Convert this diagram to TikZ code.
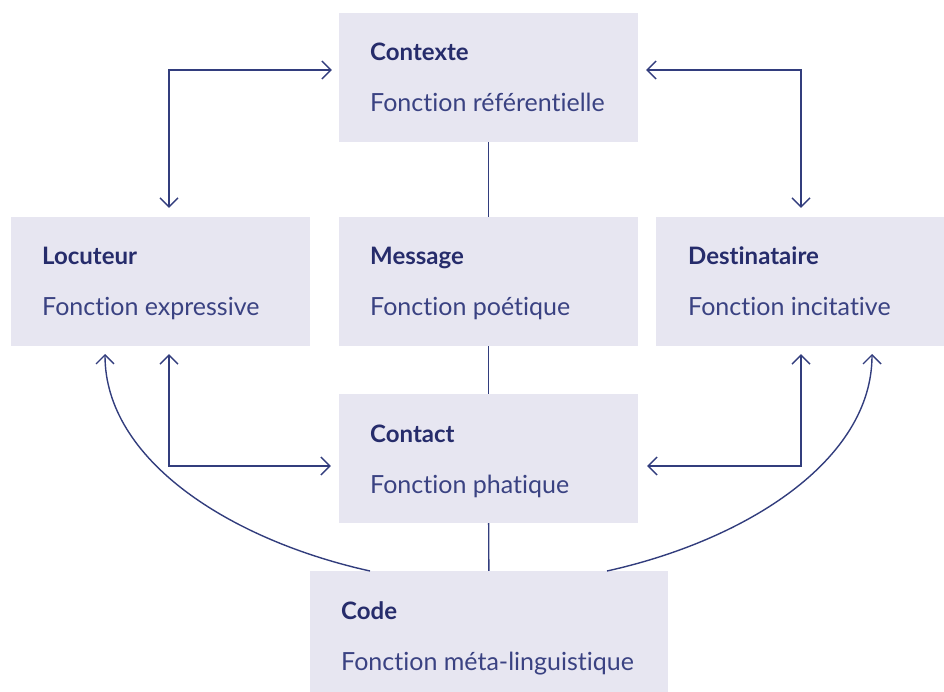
\documentclass[tikz,border=0pt]{standalone}
\usepackage{fontspec}
\setmainfont{Lato}[Ligatures={NoCommon, NoContextual}]
\usetikzlibrary{arrows.meta}
\definecolor{boxfill}{HTML}{E7E6F1}
\definecolor{navy}{HTML}{262C6B}
\definecolor{subnavy}{HTML}{3A4282}
\definecolor{linecol}{HTML}{323D7D}
\begin{document}
\begin{tikzpicture}[x=1pt, y=-1pt,
    box/.style = {fill=boxfill, minimum width=299pt, minimum height=129pt, inner sep=0pt},
    ttl/.style = {anchor=base west, inner sep=0pt, text=navy, font=\fontsize{24}{28}\selectfont\bfseries},
    sub/.style = {anchor=base west, inner sep=0pt, text=subnavy, font=\fontsize{25}{30}\selectfont},
    conn/.style = {draw=linecol, line width=1.4pt},
    >={Straight Barb[length=9pt, width=18pt]}]
    \useasboundingbox (0,0) rectangle (944,692);

    \node[box] (ctx) at (488.5, 77.5) {};
    \node[box] (loc) at (160.5, 281.5) {};
    \node[box] (msg) at (488.5, 281.5) {};
    \node[box, minimum width=288pt] (dst) at (800, 281.5) {};
    \node[box] (cnt) at (488.5, 458.5) {};
    \node[box, minimum width=358pt, minimum height=121pt] (code) at (489, 631.5) {};

    \node[ttl] (ctxT) at (370, 61) {Contexte};
    \node[sub] (ctxF) at (370, 112) {Fonction référentielle};
    \node[ttl] (locT) at (42, 265) {Locuteur};
    \node[sub] (locF) at (42, 316) {Fonction expressive};
    \node[ttl] (msgT) at (370, 265) {Message};
    \node[sub] (msgF) at (370, 316) {Fonction poétique};
    \node[ttl] (dstT) at (688, 265) {Destinataire};
    \node[sub] (dstF) at (688, 316) {Fonction incitative};
    \node[ttl] (cntT) at (370, 442) {Contact};
    \node[sub] (cntF) at (370, 493) {Fonction phatique};
    \node[ttl] (codeT) at (341, 619) {Code};
    \node[sub] (codeF) at (341, 670) {Fonction méta-linguistique};

    \draw[conn] (ctx) -- (msg);
    \draw[conn] (msg) -- (cnt);
    \draw[conn] (cnt) -- (code);

    \coordinate (tl) at (169, 70);
    \coordinate (tr) at (801, 70);
    \coordinate (bl) at (169, 466);
    \coordinate (br) at (801, 466);
    \draw[conn, <->, shorten <=9pt, shorten >=7pt] (tl |- loc.north) -- (tl) -- (tl -| ctx.west);
    \draw[conn, <->, shorten <=9pt, shorten >=8pt] (tr |- dst.north) -- (tr) -- (tr -| ctx.east);
    \draw[conn, <->, shorten <=8pt, shorten >=8pt] (bl |- loc.south) -- (bl) -- (bl -| cnt.west);
    \draw[conn, <->, shorten <=8pt, shorten >=9pt] (br |- dst.south) -- (br) -- (br -| cnt.east);

    \coordinate (cl) at (370, 571);
    \coordinate (cr) at (607, 571);
    \coordinate (al) at (105, 354);
    \coordinate (ar) at (872, 354);
    \draw[conn, ->] (cl) .. controls (230, 540) and (105, 460) .. (al);
    \draw[conn, ->] (cr) .. controls (747, 540) and (872, 460) .. (ar);

\end{tikzpicture}
\end{document}
